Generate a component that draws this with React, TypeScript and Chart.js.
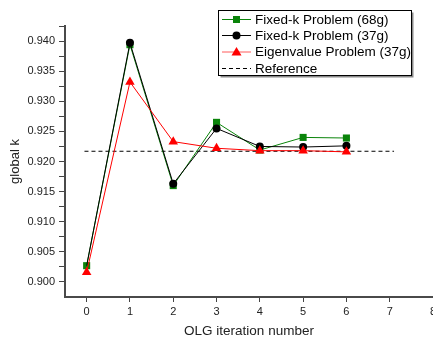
import React, { useEffect, useRef } from "react";
import { Chart, registerables } from "chart.js";

Chart.register(...registerables);

const iterations = [0, 1, 2, 3, 4, 5, 6];
const fixedK68g = [0.9027, 0.9394, 0.9160, 0.9265, 0.9219, 0.9240, 0.9239];
const fixedK37g = [0.9027, 0.9397, 0.9163, 0.9255, 0.9225, 0.9224, 0.9226];
const eigen37g = [0.9016, 0.9332, 0.9233, 0.9222, 0.9218, 0.9218, 0.9216];
const referenceX = [-0.05, 7.1];
const referenceK = 0.9217;
const xTicks = [0, 1, 2, 3, 4, 5, 6, 7, 8];
const seriesLabels = [
  "Fixed-k Problem (68g)",
  "Fixed-k Problem (37g)",
  "Eigenvalue Problem (37g)",
  "Reference",
];

const GREEN = "#0a840a";
const BLACK = "#000000";
const RED = "#ff0000";
const FONT = "'Liberation Sans', Arial, sans-serif";

const toPts = (ys: number[]) => iterations.map((x, i) => ({ x, y: ys[i] }));

const legendPlugin = {
  id: "boxLegend",
  afterDraw(chart: any) {
    const ctx = chart.ctx as CanvasRenderingContext2D;
    const bx = 218.5, by = 10.5, bw = 193, bh = 65;
    ctx.save();
    ctx.fillStyle = "#8a8a8a";
    ctx.fillRect(bx + 2, by + 2, bw, bh);
    ctx.fillStyle = "#ffffff";
    ctx.fillRect(bx, by, bw, bh);
    ctx.strokeStyle = "#000";
    ctx.lineWidth = 1;
    ctx.strokeRect(bx, by, bw, bh);
    const rows = [19.5, 35.5, 52, 68.5];
    const ds = chart.data.datasets;
    ds.forEach((d: any, i: number) => {
      const y = rows[i];
      ctx.beginPath();
      ctx.strokeStyle = i === 2 ? "#ff5a5a" : d.borderColor;
      ctx.lineWidth = 1;
      ctx.setLineDash(d.borderDash || []);
      ctx.moveTo(222, y);
      ctx.lineTo(251, y);
      ctx.stroke();
      ctx.setLineDash([]);
      const cx = 236.5;
      ctx.fillStyle = d.pointBackgroundColor;
      if (d.pointStyle === "rect") {
        ctx.fillRect(cx - 3.5, y - 3.5, 7, 7);
      } else if (d.pointStyle === "circle") {
        ctx.beginPath();
        ctx.arc(cx, y, 4, 0, Math.PI * 2);
        ctx.fill();
      } else if (d.pointStyle === "triangle") {
        ctx.beginPath();
        ctx.moveTo(cx, y - 5);
        ctx.lineTo(cx + 5, y + 3.5);
        ctx.lineTo(cx - 5, y + 3.5);
        ctx.closePath();
        ctx.fill();
      }
      ctx.fillStyle = "#000";
      ctx.font = `13.5px ${FONT}`;
      ctx.textBaseline = "middle";
      ctx.textAlign = "left";
      ctx.fillText(d.label, 255, y + 0.5);
    });
    ctx.restore();
  },
};

export default function App() {
  const ref = useRef<HTMLCanvasElement>(null);
  useEffect(() => {
    document.body.style.margin = "0";
    document.body.style.overflow = "hidden";
    const chart = new Chart(ref.current!, {
      type: "line",
      data: {
        datasets: [
          {
            label: seriesLabels[0],
            data: toPts(fixedK68g),
            borderColor: GREEN,
            backgroundColor: GREEN,
            pointBackgroundColor: GREEN,
            pointBorderColor: GREEN,
            pointStyle: "rect",
            pointRadius: 5,
            pointBorderWidth: 0,
            borderWidth: 1,
            order: 3,
          },
          {
            label: seriesLabels[1],
            data: toPts(fixedK37g),
            borderColor: BLACK,
            backgroundColor: BLACK,
            pointBackgroundColor: BLACK,
            pointBorderColor: BLACK,
            pointStyle: "circle",
            pointRadius: (c: any) => (c.dataIndex === 0 ? 0 : 4),
            pointBorderWidth: 0,
            borderWidth: 1,
            order: 2,
          } as any,
          {
            label: seriesLabels[2],
            data: toPts(eigen37g),
            borderColor: RED,
            backgroundColor: RED,
            pointBackgroundColor: RED,
            pointBorderColor: RED,
            pointStyle: "triangle",
            pointRadius: 5.5,
            pointBorderWidth: 0,
            borderWidth: 1,
            order: 1,
          },
          {
            label: seriesLabels[3],
            data: referenceX.map((x) => ({ x, y: referenceK })),
            borderColor: BLACK,
            backgroundColor: BLACK,
            pointBackgroundColor: BLACK,
            pointRadius: 0,
            borderWidth: 1,
            borderDash: [4, 3],
            order: 4,
          } as any,
        ],
      },
      options: {
        responsive: false,
        animation: false,
        events: [],
        layout: { padding: { top: 26, right: 17, left: 0, bottom: 0 } },
        plugins: { legend: { display: false }, tooltip: { enabled: false } },
        scales: {
          x: {
            type: "linear",
            min: -0.5,
            max: 8,
            afterBuildTicks: (s: any) => {
              s.ticks = xTicks.map((v) => ({ value: v }));
            },
            afterFit: (s: any) => {
              s.height = 41;
            },
            grid: { drawOnChartArea: false, drawTicks: true, tickLength: 5, color: "#444", tickWidth: 1 },
            border: { display: true, color: "#4a4a4a", width: 2 },
            ticks: {
              color: "#222",
              font: { family: FONT, size: 11 },
              padding: 3,
              maxRotation: 0,
              autoSkip: false,
              callback: (v: any) => String(v),
            },
            title: {
              display: true,
              text: "OLG iteration number",
              color: "#222",
              font: { family: FONT, size: 13.5, lineHeight: 1 },
              padding: { top: 0, bottom: 0 },
            },
          },
          y: {
            type: "linear",
            min: 0.8975,
            max: 0.9425,
            afterBuildTicks: (s: any) => {
              const t = [];
              for (let i = 0; i <= 17; i++) t.push({ value: (3600 + i * 10) / 4000 });
              s.ticks = t;
            },
            afterFit: (s: any) => {
              s.width = 65;
            },
            grid: { drawOnChartArea: false, drawTicks: true, tickLength: 6, color: "#444", tickWidth: 1 },
            border: { display: true, color: "#4a4a4a", width: 2 },
            ticks: {
              color: "#222",
              font: { family: FONT, size: 11 },
              padding: 4,
              autoSkip: false,
              callback: (v: any) => {
                const k = Math.round(v * 4000);
                return (k - 3600) % 20 === 0 ? (k / 4000).toFixed(3) : "";
              },
            },
            title: {
              display: true,
              text: "global k",
              color: "#222",
              font: { family: FONT, size: 13 },
              padding: { top: 8, bottom: 0 },
            },
          },
        },
      },
      plugins: [legendPlugin],
    });
    return () => chart.destroy();
  }, []);
  return (
    <div style={{ position: "fixed", left: 0, top: 0, width: 433, height: 338, overflow: "hidden", background: "#fff" }}>
      <canvas ref={ref} width={450} height={338} />
    </div>
  );
}
